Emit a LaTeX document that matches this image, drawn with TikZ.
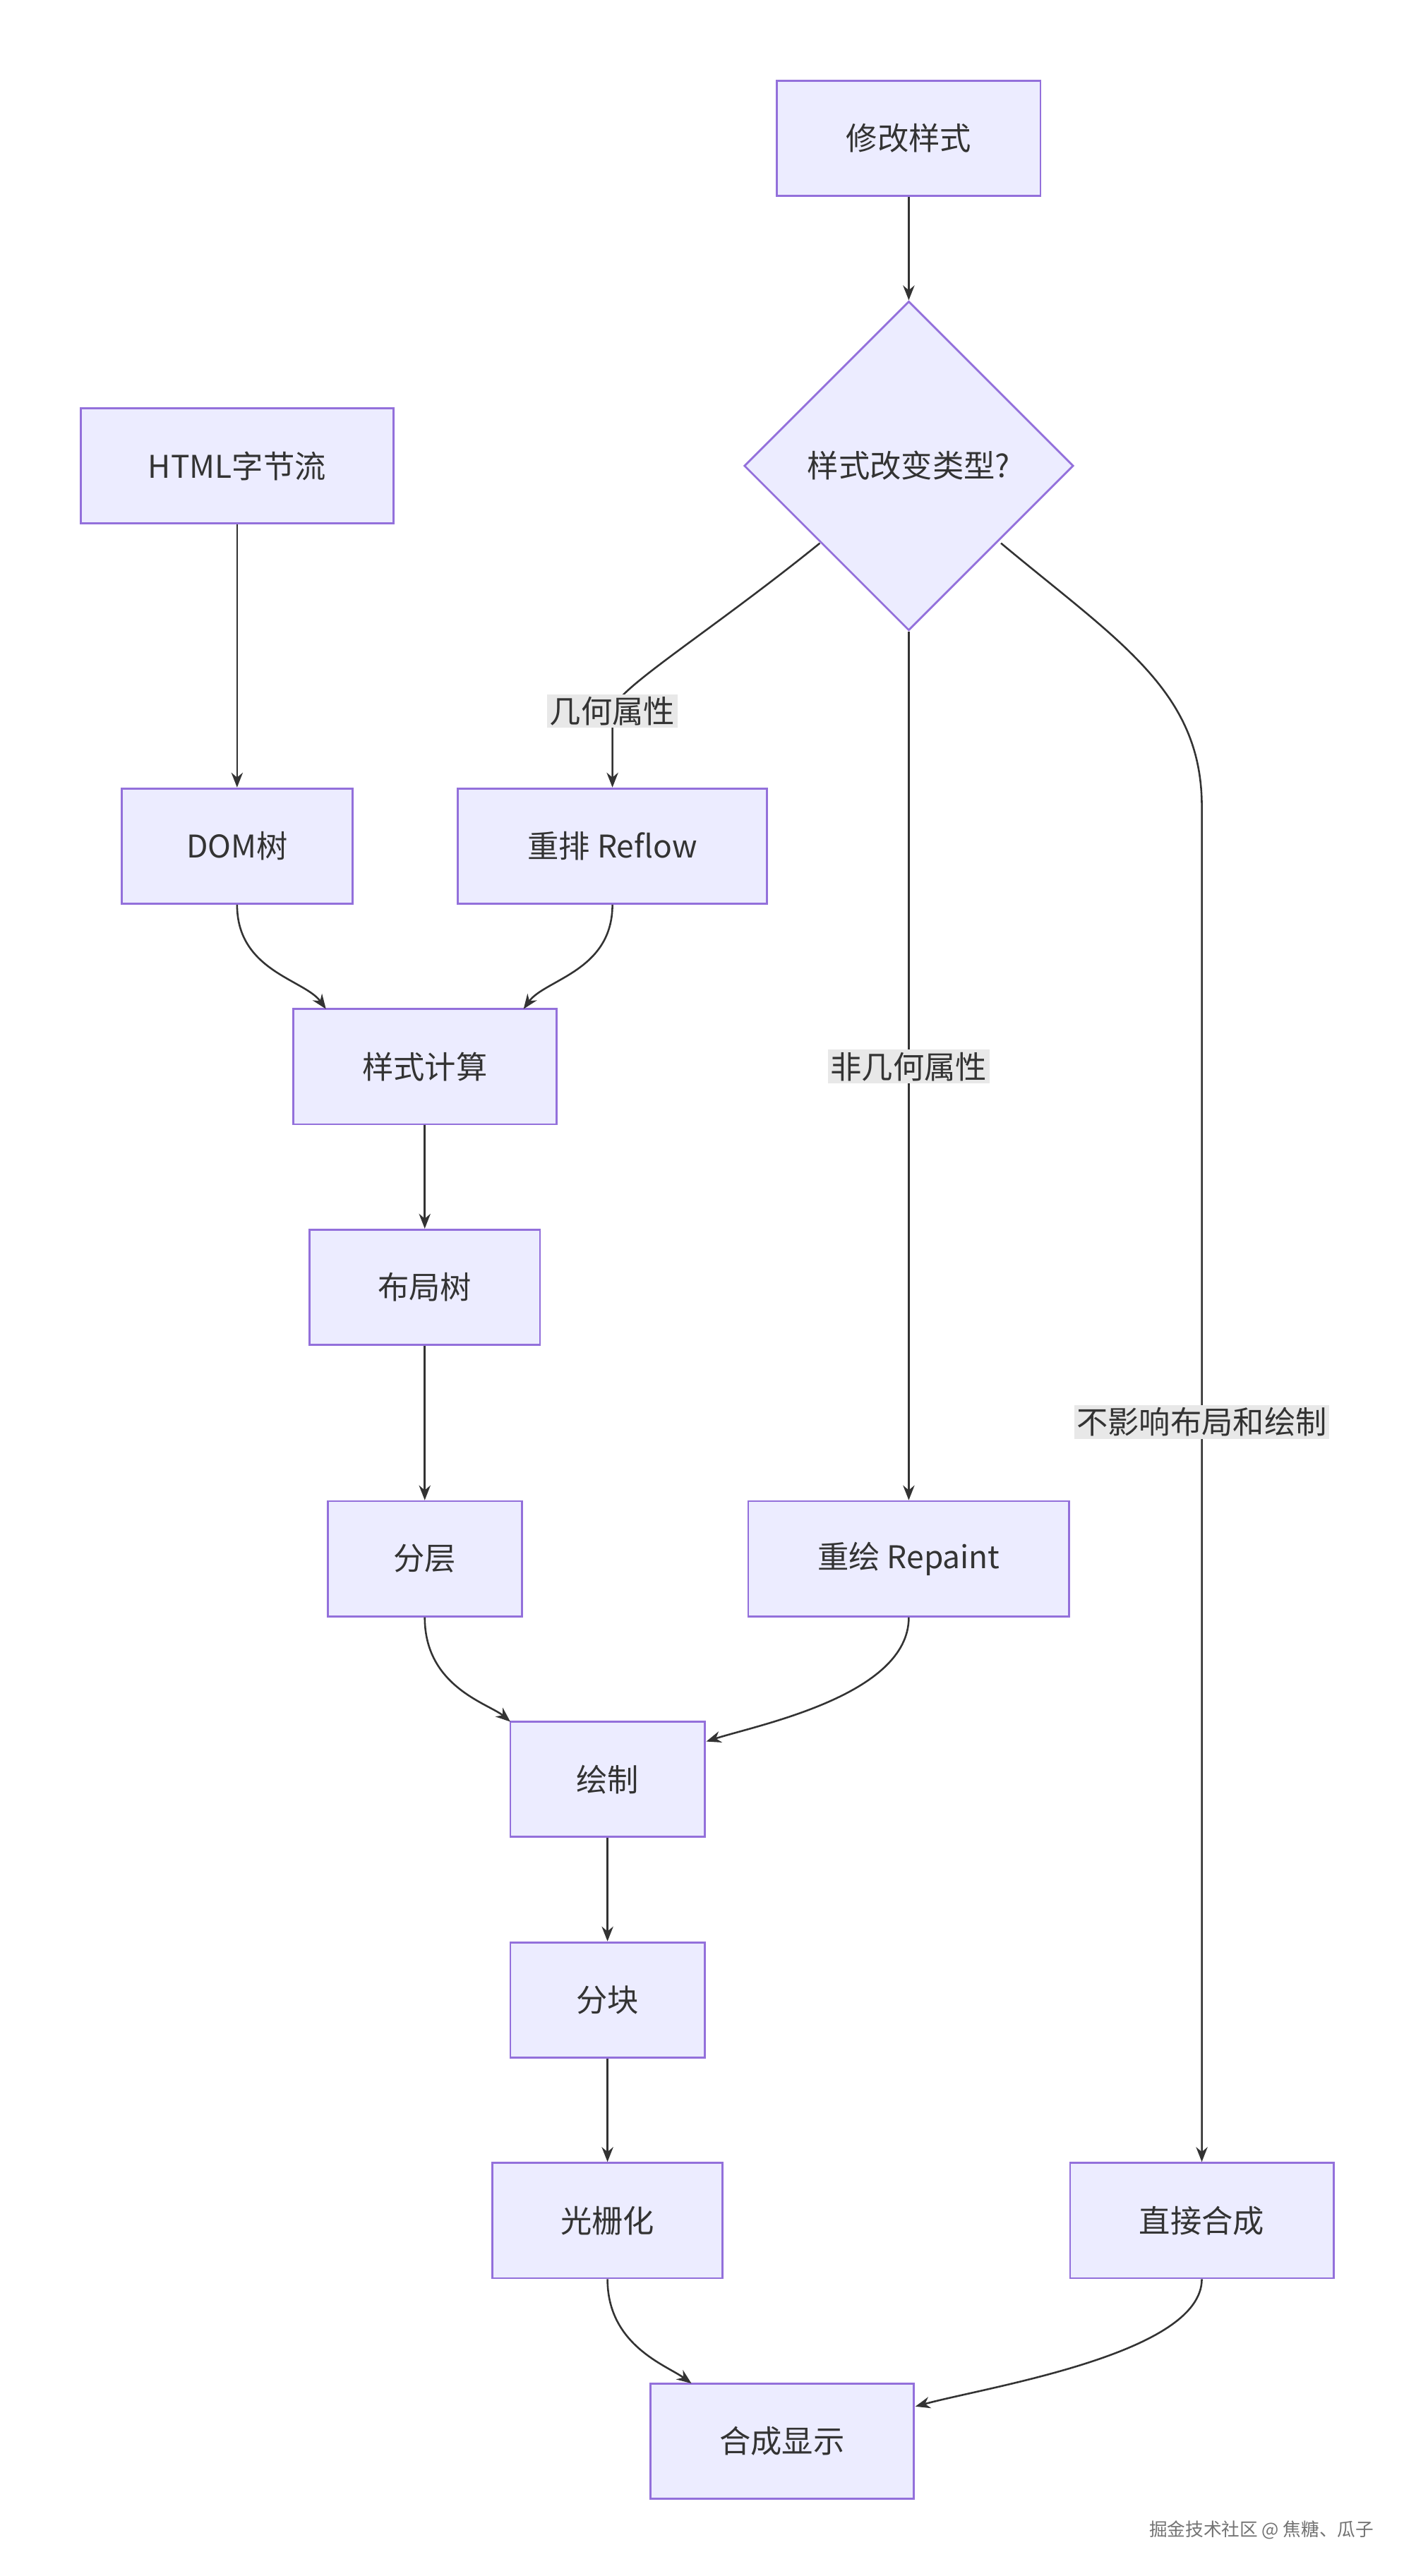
\documentclass[tikz,border=0pt]{standalone}
\usepackage{fontspec}
\setmainfont{Noto Sans CJK SC}
\usetikzlibrary{shapes.geometric,arrows.meta}
\definecolor{nf}{HTML}{ECECFF}\definecolor{ns}{HTML}{9370DB}\definecolor{ln}{HTML}{333333}
\begin{document}
\begin{tikzpicture}[x=1pt,y=-1pt,
 box/.style={draw=ns,fill=nf,line width=1.2pt,minimum height=70pt,inner sep=0pt,font=\fontsize{19}{22}\selectfont,text=ln},
 lab/.style={fill=black!9,inner sep=1.5pt,font=\fontsize{19}{22}\selectfont,text=ln},
 ar/.style={draw=ln,line width=1.1pt,-{Stealth[length=9pt,width=7pt]}}]
\useasboundingbox (0,0) rectangle (860,1565);
\node[box,minimum width=160pt] (a) at (552,84) {修改样式};
\node[box,diamond,minimum width=200pt,minimum height=200pt] (d) at (552,283) {样式改变类型?};
\node[box,minimum width=190pt] (h) at (144,283) {HTML字节流};
\node[box,minimum width=140pt] (dom) at (144,514) {DOM树};
\node[box,minimum width=188pt] (rf) at (372,514) {重排 Reflow};
\node[box,minimum width=160pt] (sc) at (258,648) {样式计算};
\node[box,minimum width=140pt] (lt) at (258,782) {布局树};
\node[box,minimum width=118pt] (fc) at (258,947) {分层};
\node[box,minimum width=195pt] (rp) at (552,947) {重绘 Repaint};
\node[box,minimum width=118pt] (hz) at (369,1081) {绘制};
\node[box,minimum width=118pt] (fk) at (369,1215) {分块};
\node[box,minimum width=140pt] (gs) at (369,1349) {光栅化};
\node[box,minimum width=160pt] (zj) at (730,1349) {直接合成};
\node[box,minimum width=160pt] (hc) at (475,1483) {合成显示};
\coordinate (r1) at (730,490);
\draw[ar] (a) -- (d.north);
\draw[ar] (h) -- (dom);
\draw[ar] (498,330) .. controls (430,385) and (372,420) .. (372,432) -- (rf.north);
\node[lab] (l1) at (372,432) {几何属性};
\draw[ar] (d.south) -- (rp.north);
\node[lab] (l2) at (552,648) {非几何属性};
\draw[ar] (608,330) .. controls (680,390) and (730,420) .. (r1) -- (zj.north);
\node[lab] (l3) at (730,864) {不影响布局和绘制};
\draw[ar] (dom.south) .. controls (144,590) and (185,595) .. (198,613);
\draw[ar] (rf.south) .. controls (372,590) and (331,595) .. (318,613);
\draw[ar] (sc) -- (lt);
\draw[ar] (lt) -- (fc);
\draw[ar] (fc.south) .. controls (258,1025) and (297,1035) .. (310,1046);
\draw[ar] (rp.south) .. controls (552,1030) and (460,1048) .. (429,1058);
\draw[ar] (hz) -- (fk);
\draw[ar] (fk) -- (gs);
\draw[ar] (gs.south) .. controls (369,1425) and (405,1437) .. (420,1448);
\draw[ar] (zj.south) .. controls (730,1430) and (600,1450) .. (556,1462);
\node[font=\fontsize{11}{13}\selectfont,text=black!55,anchor=east] (wm) at (838,1537) {掘金技术社区 @ 焦糖、瓜子};
\end{tikzpicture}
\end{document}
